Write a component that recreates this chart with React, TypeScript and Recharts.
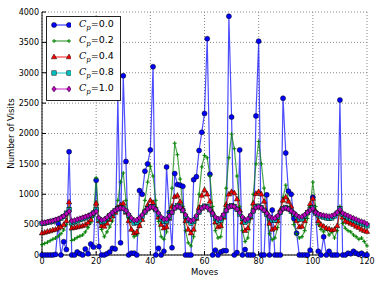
import { CartesianGrid, Line, LineChart, XAxis, YAxis } from "recharts";

// moves 0..120, one sample per move
const moves = Array.from({ length: 121 }, (_, i) => i);

const cp00 = [
  0, 0, 0, 0, 0, 10, 520, 0, 220, 90, 1700,
  0, 0, 50, 20, 0, 100, 20, 180, 130, 1230,
  140, 0, 0, 20, 50, 110, 100, 2600, 200, 2950,
  1540, 0, 30, 30, 0, 1060, 1000, 1380, 1500, 1730,
  3100, 0, 110, 0, 60, 1450, 700, 120, 1340, 1160,
  1150, 1130, 0, 0, 0, 1240, 1290, 1720, 2020, 2330,
  3560, 1330, 0, 80, 0, 50, 70, 70, 3930, 2270,
  0, 40, 1730, 0, 90, 0, 0, 0, 2290, 3520,
  0, 0, 990, 0, 740, 0, 0, 0, 2580, 1680,
  1050, 1000, 600, 360, 0, 0, 0, 0, 80, 950,
  700, 60, 0, 300, 0, 60, 0, 0, 0, 2550,
  0, 0, 30, 20, 60, 30, 10, 30, 0, 0,
];

const cp02 = [
  170, 190, 210, 235, 260, 280, 310, 350, 410, 500, 780,
  240, 260, 290, 310, 330, 380, 450, 530, 640, 1270,
  580, 420, 300, 380, 460, 560, 700, 900, 1200, 1350,
  900, 600, 420, 300, 330, 480, 650, 900, 1200, 1460,
  1300, 900, 550, 300, 260, 380, 700, 1100, 1840, 1650,
  1250, 800, 400, 200, 150, 300, 600, 1000, 1450, 1640,
  1600, 1300, 800, 400, 280, 300, 600, 1100, 1600, 1990,
  1750, 1300, 800, 400, 220, 280, 600, 1000, 1500, 1870,
  1500, 1100, 650, 350, 250, 280, 450, 700, 950, 1150,
  900, 700, 500, 350, 280, 300, 400, 600, 800, 1200,
  800, 500, 420, 380, 430, 330, 380, 280, 400, 800,
  520, 440, 400, 380, 330, 300, 260, 280, 220, 150,
];

const cp04 = [
  360, 370, 385, 395, 410, 420, 440, 460, 500, 560, 870,
  440, 450, 460, 470, 480, 500, 530, 580, 700, 850,
  560, 480, 470, 520, 580, 640, 700, 780, 820, 850,
  700, 560, 420, 360, 380, 480, 580, 720, 820, 900,
  860, 760, 620, 500, 440, 460, 600, 800, 960, 980,
  880, 760, 560, 420, 360, 420, 600, 780, 980, 1070,
  1000, 880, 700, 540, 460, 480, 620, 830, 1000, 1040,
  1020, 920, 740, 540, 400, 440, 620, 850, 1010, 1040,
  1000, 880, 700, 520, 420, 440, 560, 740, 900, 950,
  880, 800, 680, 560, 460, 470, 560, 700, 840, 930,
  720, 560, 500, 470, 440, 430, 410, 420, 480, 720,
  620, 560, 540, 520, 500, 470, 450, 420, 400, 385,
];

const cp08 = [
  520, 525, 535, 545, 555, 570, 585, 605, 635, 690, 745,
  530, 545, 560, 580, 595, 610, 630, 655, 690, 750,
  590, 545, 560, 600, 645, 690, 730, 760, 780, 770,
  720, 650, 580, 525, 535, 580, 640, 705, 760, 795,
  790, 745, 670, 595, 550, 560, 620, 700, 775, 810,
  790, 730, 640, 565, 525, 550, 625, 705, 775, 805,
  795, 745, 670, 600, 560, 575, 645, 730, 795, 815,
  800, 750, 675, 600, 540, 565, 640, 725, 790, 805,
  780, 735, 670, 610, 570, 575, 625, 700, 765, 785,
  760, 720, 675, 630, 590, 595, 640, 695, 745, 780,
  690, 660, 640, 625, 610, 600, 610, 640, 690, 760,
  670, 640, 615, 595, 575, 555, 535, 515, 500, 480,
];

const cp10 = [
  530, 535, 545, 555, 565, 580, 595, 615, 640, 680, 720,
  560, 570, 585, 600, 615, 630, 645, 665, 690, 720,
  610, 575, 585, 620, 660, 700, 735, 760, 775, 765,
  730, 670, 610, 570, 575, 610, 660, 715, 760, 790,
  785, 750, 690, 625, 585, 590, 640, 705, 770, 800,
  785, 735, 660, 590, 560, 580, 645, 715, 770, 795,
  785, 745, 685, 625, 595, 605, 665, 735, 790, 805,
  795, 755, 695, 625, 575, 595, 655, 725, 780, 795,
  775, 735, 685, 635, 605, 605, 645, 705, 760, 775,
  755, 725, 690, 655, 625, 630, 660, 700, 740, 765,
  700, 675, 660, 650, 645, 635, 645, 665, 700, 750,
  690, 665, 645, 625, 605, 585, 565, 550, 535, 510,
];

const xTicks = [0, 20, 40, 60, 80, 100, 120];
const yTicks = [0, 500, 1000, 1500, 2000, 2500, 3000, 3500, 4000];

type Shape = "circle" | "plus" | "triangle" | "square" | "diamond";

const SERIES: { key: string; label: string; color: string; shape: Shape }[] = [
  { key: "cp00", label: "0.0", color: "#0000ff", shape: "circle" },
  { key: "cp02", label: "0.2", color: "#008000", shape: "plus" },
  { key: "cp04", label: "0.4", color: "#ff0000", shape: "triangle" },
  { key: "cp08", label: "0.8", color: "#00bfbf", shape: "square" },
  { key: "cp10", label: "1.0", color: "#bf00bf", shape: "diamond" },
];

const data = moves.map((move, i) => ({
  move,
  cp00: cp00[i],
  cp02: cp02[i],
  cp04: cp04[i],
  cp08: cp08[i],
  cp10: cp10[i],
}));

function Marker({ shape, x, y, color }: { shape: Shape; x: number; y: number; color: string }) {
  switch (shape) {
    case "circle":
      return <circle cx={x} cy={y} r={2.5} fill={color} stroke="#000" strokeWidth={0.5} />;
    case "plus":
      return <path d={`M${x - 2},${y}h4M${x},${y - 2}v4`} stroke={color} strokeWidth={1} />;
    case "triangle":
      return (
        <path
          d={`M${x},${y - 3}L${x + 2.7},${y + 1.8}L${x - 2.7},${y + 1.8}Z`}
          fill={color}
          stroke="#000"
          strokeWidth={0.5}
        />
      );
    case "square":
      return <rect x={x - 2.2} y={y - 2.2} width={4.4} height={4.4} fill={color} stroke="#000" strokeWidth={0.5} />;
    default:
      return (
        <path
          d={`M${x},${y - 2.9}L${x + 2.2},${y}L${x},${y + 2.9}L${x - 2.2},${y}Z`}
          fill={color}
          stroke="#000"
          strokeWidth={0.5}
        />
      );
  }
}

const tickStyle = { fontSize: 8, fontFamily: "DejaVu Sans", fill: "#000" };

function LegendBox() {
  return (
    <div
      style={{
        position: "absolute",
        left: 46,
        top: 16,
        width: 73,
        height: 83,
        border: "1px solid #222",
        background: "#fff",
        fontFamily: "DejaVu Sans",
        fontSize: 9.5,
      }}
    >
      {SERIES.map((s, i) => (
        <div
          key={s.key}
          style={{ position: "absolute", left: 4, top: 1 + i * 16, height: 14, display: "flex", alignItems: "center" }}
        >
          <svg width={20} height={14}>
            <line x1={3} y1={7} x2={18} y2={7} stroke={s.color} strokeWidth={2} strokeOpacity={0.45} />
            <Marker shape={s.shape} x={3} y={7} color={s.color} />
            <Marker shape={s.shape} x={18} y={7} color={s.color} />
          </svg>
          <span style={{ marginLeft: 8, whiteSpace: "nowrap" }}>
            <span style={{ fontFamily: "DejaVu Serif", fontStyle: "italic" }}>C</span>
            <sub style={{ fontFamily: "DejaVu Serif", fontStyle: "italic", fontSize: 7 }}>p</sub>={s.label}
          </span>
        </div>
      ))}
    </div>
  );
}

export default function App() {
  return (
    <div style={{ position: "relative", width: 382, height: 286, background: "#fff" }}>
      <style>{"body{margin:0}"}</style>
      <LineChart width={382} height={286} data={data} margin={{ top: 12, right: 15, bottom: 0, left: 0 }}>
        <CartesianGrid stroke="#888" strokeDasharray="1 2" />
        <XAxis
          dataKey="move"
          type="number"
          domain={[0, 120]}
          ticks={xTicks}
          height={31}
          tick={tickStyle}
          tickSize={-4}
          tickMargin={7}
          stroke="#000"
          label={{ value: "Moves", position: "insideBottom", offset: 11, fontSize: 8.5, fontFamily: "DejaVu Sans", fill: "#000" }}
        />
        <XAxis
          xAxisId="top"
          orientation="top"
          dataKey="move"
          type="number"
          domain={[0, 120]}
          ticks={xTicks}
          height={0}
          tick={false}
          tickSize={-4}
          stroke="#000"
        />
        <YAxis
          type="number"
          domain={[0, 4000]}
          ticks={yTicks}
          width={42}
          tick={tickStyle}
          tickSize={-4}
          tickMargin={7}
          stroke="#000"
          label={{
            value: "Number of Visits",
            angle: -90,
            position: "insideLeft",
            offset: 11,
            fontSize: 8.5,
            fontFamily: "DejaVu Sans",
            fill: "#000",
            style: { textAnchor: "middle" },
          }}
        />
        <YAxis
          yAxisId="right"
          orientation="right"
          type="number"
          domain={[0, 4000]}
          ticks={yTicks}
          width={0}
          tick={false}
          tickSize={-4}
          stroke="#000"
        />
        {SERIES.map((s) => (
          <Line
            key={s.key}
            dataKey={s.key}
            type="linear"
            stroke={s.color}
            strokeWidth={1.2}
            strokeOpacity={0.7}
            isAnimationActive={false}
            dot={(p: any) => (
              <Marker key={`${s.key}-${p.index}`} shape={s.shape} x={p.cx} y={p.cy} color={s.color} />
            )}
            activeDot={false}
          />
        ))}
      </LineChart>
      <LegendBox />
    </div>
  );
}
